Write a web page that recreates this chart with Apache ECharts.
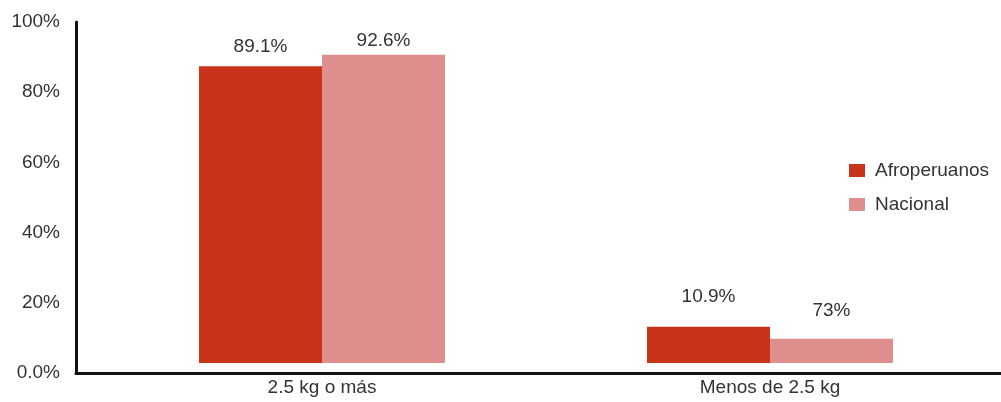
<!DOCTYPE html>
<html>
<head>
<meta charset="utf-8">
<script src="https://cdn.jsdelivr.net/npm/echarts@6/dist/echarts.min.js"></script>
<style>html,body{margin:0;padding:0;background:#fff}#c{width:1001px;height:402px}</style>
</head>
<body>
<div id="c"></div>
<script>
const categories = ['2.5 kg o más', 'Menos de 2.5 kg'];
const seriesNames = ['Afroperuanos', 'Nacional'];
const afroValues = [89.1, 10.9];
const nacionalValues = [92.6, 7.3];
const afroLabels = ['89.1%', '10.9%'];
const nacionalLabels = ['92.6%', '73%'];
const yTicks = [0, 20, 40, 60, 80, 100];
const yTickLabels = ['0.0%', '20%', '40%', '60%', '80%', '100%'];

const font = 'Liberation Sans, Arial, sans-serif';
const textColor = '#333';
const fs = 19;

function mk(vals, labels, distances) {
  return vals.map((v, i) => ({
    value: v,
    label: { formatter: labels[i], distance: distances[i] }
  }));
}

const chart = echarts.init(document.getElementById('c'));
chart.setOption({
  animation: false,
  backgroundColor: '#fff',
  textStyle: { fontFamily: font },
  grid: [
    { left: 76, right: 0, top: 22, bottom: 29 },
    { left: 98, right: 7, top: 22, bottom: 29 }
  ],
  legend: {
    orient: 'vertical',
    left: 844,
    top: 156,
    itemWidth: 16,
    itemHeight: 13,
    itemGap: 15,
    icon: 'rect',
    data: seriesNames,
    textStyle: { fontFamily: font, fontSize: fs, color: textColor, padding: [0, 0, 0, 5] }
  },
  xAxis: [
    {
      gridIndex: 0, type: 'category', data: categories,
      axisLine: { show: true, lineStyle: { color: '#111', width: 3 } },
      axisTick: { show: false }, axisLabel: { show: false }
    },
    {
      gridIndex: 1, type: 'category', data: categories,
      axisLine: { show: false }, axisTick: { show: false },
      axisLabel: { fontFamily: font, fontSize: fs, color: textColor, margin: 5 }
    }
  ],
  yAxis: [
    {
      gridIndex: 0, type: 'value', min: 0, max: 100, interval: 20,
      axisLine: { show: true, lineStyle: { color: '#111', width: 3 } },
      axisTick: { show: false },
      splitLine: { show: false },
      axisLabel: {
        fontFamily: font, fontSize: fs, color: textColor, margin: 16,
        formatter: v => yTickLabels[yTicks.indexOf(v)]
      }
    },
    {
      gridIndex: 1, type: 'value', min: -3, max: 102.4,
      show: false, splitLine: { show: false }
    }
  ],
  series: [
    {
      name: seriesNames[0], type: 'bar', xAxisIndex: 1, yAxisIndex: 1,
      barWidth: 123, barGap: '0%',
      itemStyle: { color: '#C8341A' },
      label: { show: true, position: 'top', fontFamily: font, fontSize: fs, color: textColor },
      data: mk(afroValues, afroLabels, [10, 20])
    },
    {
      name: seriesNames[1], type: 'bar', xAxisIndex: 1, yAxisIndex: 1,
      barWidth: 123, barGap: '0%',
      itemStyle: { color: '#DF8E8E' },
      label: { show: true, position: 'top', fontFamily: font, fontSize: fs, color: textColor },
      data: mk(nacionalValues, nacionalLabels, [4, 18])
    }
  ]
});
</script>
</body>
</html>
